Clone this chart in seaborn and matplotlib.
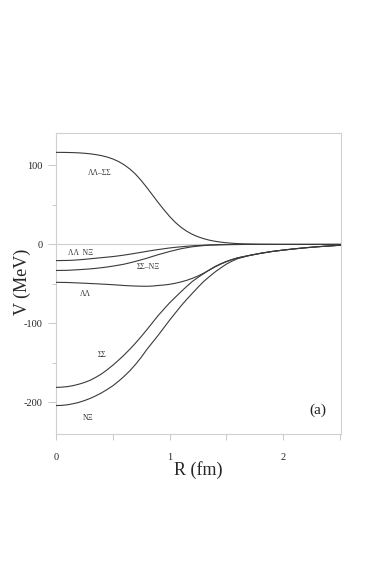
import numpy as np
import pandas as pd
import matplotlib
matplotlib.use("Agg")
import matplotlib.pyplot as plt
from matplotlib.ticker import MultipleLocator
import seaborn as sns

# ---- data ----
R = [0.0, 0.05, 0.1, 0.15, 0.2, 0.25, 0.3, 0.35, 0.4, 0.45, 0.5, 0.55,
     0.6, 0.65, 0.7, 0.75, 0.8, 0.85, 0.9, 0.95, 1.0, 1.05, 1.1, 1.15,
     1.2, 1.25, 1.3, 1.35, 1.4, 1.45, 1.5, 1.55, 1.6,
     1.7, 1.8, 1.9, 2.0, 2.1, 2.2, 2.3, 2.4, 2.51]

V_LL_SS = [116.5, 116.5, 116.4, 116.2, 115.9, 115.4, 114.7, 113.7, 112.4,
           110.6, 108.2, 105.0, 100.8, 95.5, 89, 81, 72, 62.5, 53, 44, 35.5,
           28, 21.8, 16.8, 12.8, 9.7, 7.3, 5.4, 4, 2.9, 2.1, 1.5, 1,
           0.5, 0.2, 0.1, 0, 0, 0, 0, 0, 0]
V_LL_NX = [-20.5, -20.4, -20.3, -20, -19.5, -18.9, -18.2, -17.5, -16.8,
           -16.1, -15.4, -14.5, -13.5, -12.4, -11.2, -10, -8.8, -7.6, -6.5,
           -5.5, -4.5, -3.7, -3, -2.4, -1.8, -1.4, -1, -0.7, -0.5, -0.3,
           -0.2, -0.1, -0.1,
           0, 0, 0, 0, 0, 0, 0, 0, 0]
V_SS_NX = [-33, -32.9, -32.8, -32.4, -32, -31.5, -31, -30.3, -29.5, -28.6,
           -27.5, -26.3, -25, -23.3, -21.5, -19.5, -17.5, -15.2, -13, -11,
           -9, -7.2, -5.5, -4.2, -3, -2.2, -1.5, -1.0, -0.7, -0.5, -0.3,
           -0.2, -0.1,
           0, 0, 0, 0, 0, 0, 0, 0, 0]
V_LL = [-48, -48.1, -48.2, -48.5, -48.8, -49.1, -49.5, -49.8, -50.2, -50.6,
        -51, -51.5, -52, -52.4, -52.7, -52.9, -53, -52.7, -52, -51.4, -50.5,
        -49.2, -47.5, -45.5, -43, -40, -36.5, -32.5, -28.5, -25, -22, -19.3,
        -17,
        -14, -11.3, -9, -7.2, -5.6, -4.2, -3, -2, -1]
V_SS = [-181, -180.7, -180, -178.8, -177, -174.8, -172, -168.3, -164, -158.8,
        -153, -146.7, -140, -132.7, -125, -116.7, -108, -99, -90, -82, -74,
        -67, -60, -53.3, -47, -41.8, -37, -32.3, -28, -24.5, -21.5, -19.1,
        -17,
        -14, -11.3, -9, -7.2, -5.6, -4.2, -3, -2, -1]
V_NX = [-204, -203.8, -203, -201.7, -200, -197.7, -195, -191.7, -188, -183.7,
        -179, -173.3, -167, -160, -152, -143, -133, -124, -115, -105.5, -96,
        -87, -78, -69.8, -62, -54.3, -47, -40.8, -35, -29.8, -25, -21.2, -18,
        -14.2, -11.3, -9, -7.2, -5.6, -4.2, -3, -2, -1]

series_names = ["LL-SS", "LL-NX", "SS-NX", "LL", "SS", "NX"]
series_vals = [V_LL_SS, V_LL_NX, V_SS_NX, V_LL, V_SS, V_NX]

labels = ["ΛΛ–ΣΣ", "ΛΛ  NΞ", "ΣΣ–NΞ", "ΛΛ", "ΣΣ", "NΞ"]
label_R = [0.383, 0.22, 0.81, 0.26, 0.41, 0.286]
label_V = [90, -11.4, -28.3, -63, -140, -219.5]

x_ticks = [0, 1, 2]
y_ticks = [-200, -100, 0, 100]

# ---- build long table ----
df = pd.DataFrame({
    "R": np.tile(R, len(series_names)),
    "V": np.concatenate(series_vals),
    "curve": np.repeat(series_names, len(R)),
})

sns.set_style("white")
plt.rcParams["font.family"] = ["Liberation Serif", "DejaVu Serif"]
plt.rcParams["axes.unicode_minus"] = False

fig = plt.figure(figsize=(3.74, 5.68), dpi=100)
ax = fig.add_axes([0.1497, 0.2359, 0.9118 - 0.1497, 0.7658 - 0.2359])

ax.axhline(0, color="#cfcfcf", lw=0.8, zorder=1)

sns.lineplot(data=df, x="R", y="V", hue="curve",
             palette=["#3a3a3a"] * len(series_names), lw=0.8,
             legend=False, ax=ax, estimator=None, sort=False, zorder=3)

ax.set_xlim(0, 2.51)
ax.set_ylim(-240, 141)

ax.set_xticks(x_ticks)
ax.set_xticklabels([str(t) for t in x_ticks])
ax.set_yticks(y_ticks)
ax.set_yticklabels([str(t) for t in y_ticks])
ax.xaxis.set_minor_locator(MultipleLocator(0.5))
ax.yaxis.set_minor_locator(MultipleLocator(50))

for sp in ax.spines.values():
    sp.set_color("#d0d0d0")
    sp.set_linewidth(0.8)

ax.tick_params(axis="x", which="major", direction="out", length=4.5,
               width=0.7, color="#c8c8c8", labelsize=7.5, pad=9,
               bottom=True)
ax.tick_params(axis="x", which="minor", direction="out", length=4.5,
               width=0.7, color="#c8c8c8", bottom=True)
ax.tick_params(axis="y", which="major", direction="out", length=5.5,
               width=0.7, color="#c8c8c8", labelsize=7.5, pad=4, left=True)
ax.tick_params(axis="y", which="minor", direction="out", length=3,
               width=0.7, color="#c8c8c8", left=True)

ax.set_xlabel("R (fm)", fontsize=13, va="center")
ax.set_ylabel("V (MeV)", fontsize=13, va="center")
ax.xaxis.set_label_coords((198 - 56) / 285, (434 - 470) / 301)
ax.yaxis.set_label_coords((22 - 56) / 285, (434 - 282) / 301)

for txt, rx, vy in zip(labels, label_R, label_V):
    ax.text(rx, vy, txt, fontsize=5.5, ha="center", va="center",
            color="#333333")

ax.text(2.31, -210, "(a)", fontsize=11, ha="center", va="center",
        color="#222222")

fig.savefig("out.png", dpi=100)
